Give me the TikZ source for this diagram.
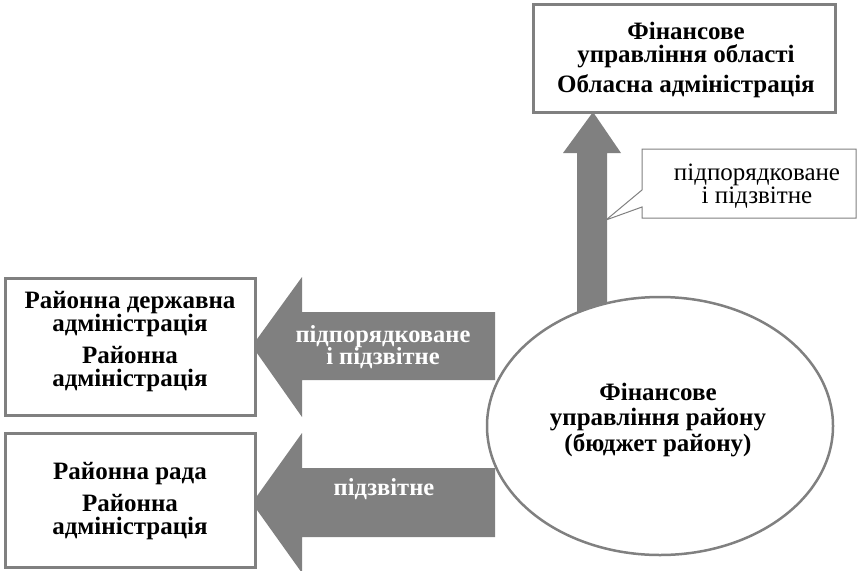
\documentclass[tikz,border=0pt]{standalone}
\usepackage{fontspec}
\setmainfont{Liberation Serif}
\usetikzlibrary{shapes.geometric}
\definecolor{arrowgray}{RGB}{128,128,128}
\definecolor{linegray}{RGB}{128,128,128}
\begin{document}
\begin{tikzpicture}[x=1pt,y=-1pt,
  framebox/.style={draw=linegray, line width=3pt, fill=white, rectangle, inner sep=0pt},
  boldtxt/.style={font=\fontsize{25}{23}\selectfont\bfseries, align=center, inner sep=0pt},
  whitetxt/.style={font=\fontsize{24.5}{22.5}\selectfont\bfseries, text=white, align=center, inner sep=0pt},
  plaintxt/.style={font=\fontsize{25}{23}\selectfont, align=center, inner sep=0pt},
  blockarrow/.style={fill=arrowgray, draw=none}]
\useasboundingbox (0,0) rectangle (858,570);

% block arrows
\fill[blockarrow] (252,346) -- (302,277) -- (302,312) -- (495,312) -- (495,380) -- (302,380) -- (302,417) -- cycle;
\fill[blockarrow] (252,503) -- (302,433) -- (302,468) -- (495,468) -- (495,537) -- (302,537) -- (302,573) -- cycle;
\fill[blockarrow] (593,112) -- (621,153) -- (607,153) -- (607,330) -- (577,330) -- (577,153) -- (563,153) -- cycle;

% ellipse
\node[ellipse, draw=linegray, line width=2.5pt, fill=white, minimum width=346pt, minimum height=258pt, inner sep=0pt] (ell) at (660,426) {};
\node[boldtxt, font=\fontsize{25}{25.5}\selectfont\bfseries] (ellt) at (658,420) {Фінансове\\управління району\\(бюджет району)};

% top box
\node[framebox, minimum width=302pt, minimum height=108pt] (top) at (684,58) {};
\node[boldtxt] (topt) at (686,60) {Фінансове\\управління області\\[5pt]Обласна адміністрація};

% left boxes
\node[framebox, minimum width=250pt, minimum height=137pt] (b1) at (130,346.5) {};
\node[boldtxt] (b1t) at (130,342) {Районна державна\\адміністрація\\[9pt]Районна\\адміністрація};
\node[framebox, minimum width=250pt, minimum height=134pt] (b2) at (130,500) {};
\node[boldtxt] (b2t) at (130,501) {Районна рада\\[9pt]Районна\\адміністрація};

% arrow labels
\node[whitetxt] (a1t) at (383,347) {підпорядковане\\і підзвітне};
\node[whitetxt] (a2t) at (384,489) {підзвітне};

% callout
\draw[linegray, line width=1pt, fill=white] (642,149) -- (856,149) -- (856,218) -- (642,218) -- (642,207) -- (606,220) -- (642,190) -- cycle;
\node[plaintxt] (callt) at (757,186) {підпорядковане\\і підзвітне};
\end{tikzpicture}
\end{document}
